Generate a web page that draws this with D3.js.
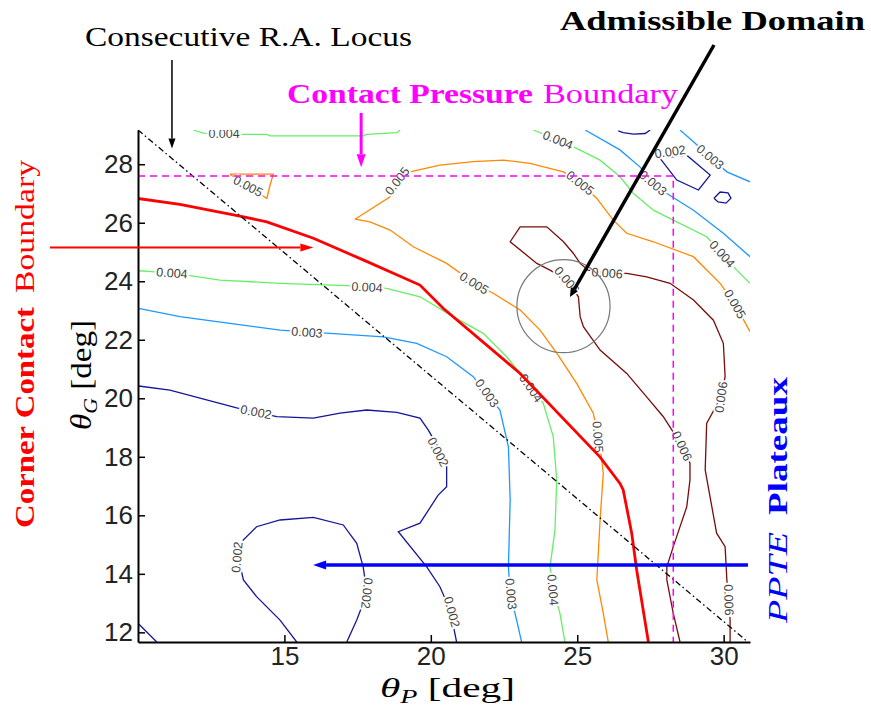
<!DOCTYPE html>
<html>
<head>
<meta charset="utf-8">
<script src="https://cdn.jsdelivr.net/npm/d3@7"></script>
<style>
  body { margin: 0; background: #fff; }
  svg { display: block; }
</style>
</head>
<body>
<svg class="chart" width="871" height="710"></svg>
<script>
// tick values
const xTicks = [15, 20, 25, 30];
const yTicks = [12, 14, 16, 18, 20, 22, 24, 26, 28];

// contour lines, one list of polylines per level ([thetaP, thetaG] in deg)
const lines002 = [
  [[10.02,20.42],[11.09,20.28],[13.37,19.67],[14.74,19.37],[15.99,19.32],[16.90,19.49],[17.81,19.60],[18.84,19.52],[19.63,19.32],[19.91,18.92],[20.31,18.23],[20.54,17.78],[20.54,16.98],[20.25,16.69],[19.63,15.73],[18.89,15.44],[19.86,14.24],[20.31,13.56],[20.66,12.76],[20.88,11.67]],
  [[15.42,11.67],[14.85,12.42],[14.05,13.22],[13.60,13.79],[13.42,14.58],[13.60,15.16],[14.05,15.61],[14.85,15.84],[15.99,15.93],[17.01,15.67],[17.47,15.04],[17.69,14.24],[17.82,13.34],[17.47,12.42],[17.13,11.67]],
  [[10.0,12.31],[10.64,11.67]],
  [[26.40,29.14],[26.57,29.08],[26.92,29.03],[27.32,29.05],[27.49,29.17]],
  [[27.83,28.20],[28.74,28.31],[29.54,27.63],[29.14,27.12],[28.40,27.46],[27.83,28.20]],
  [[29.67,26.84],[29.88,27.05],[30.15,27.02],[30.25,26.84],[30.08,26.67],[29.81,26.71],[29.67,26.84]]
];
const lines003 = [
  [[10.02,23.07],[11.43,22.79],[13.14,22.56],[14.85,22.33],[16.56,22.22],[18.38,22.10],[19.52,21.88],[20.54,21.42],[21.45,20.74],[21.85,20.21],[22.36,19.60],[22.65,18.34],[22.71,16.52],[22.65,14.24],[22.71,13.34],[22.93,12.42],[23.10,11.67]],
  [[25.27,29.17],[26.46,28.49],[27.14,27.91],[27.59,27.36],[28.06,27.00],[28.97,26.43],[29.99,25.64],[30.90,24.84]],
  [[28.51,29.17],[28.97,28.77],[29.54,28.25],[30.11,27.74],[30.90,27.40]]
];
const lines004 = [
  [[11.89,29.17],[12.23,29.06],[13.60,29.02],[14.40,29.02],[14.51,28.97],[17.69,28.97],[17.81,29.02],[18.84,29.08],[18.95,29.17]],
  [[10.02,24.36],[10.47,24.33],[11.78,24.19],[12.80,24.04],[14.85,23.93],[17.13,23.85],[18.49,23.76],[19.63,23.47],[20.66,22.85],[21.79,22.22],[22.59,21.42],[23.05,20.85],[23.42,20.35],[23.84,19.83],[24.18,18.69],[24.30,17.21],[24.24,15.50],[24.07,14.24],[24.18,13.45],[24.41,12.65],[24.58,11.67]],
  [[23.50,29.17],[24.34,28.83],[24.98,28.54],[25.78,28.14],[26.46,27.57],[26.92,27.00],[27.60,26.43],[28.28,26.09],[29.42,25.52],[29.95,24.93],[30.45,24.38],[30.90,23.93]]
];
const lines005 = [
  [[13.14,27.66],[14.62,27.66],[14.51,27.29],[14.40,26.83],[13.14,27.66]],
  [[17.41,26.12],[18.61,26.89],[18.85,27.43],[19.29,27.74],[20.31,27.97],[21.45,28.09],[22.48,28.14],[23.39,28.03],[24.53,27.74],[25.10,27.36],[25.67,26.83],[26.23,26.09],[26.69,25.64],[27.60,25.35],[28.97,24.84],[29.88,23.93],[30.39,23.22],[30.90,22.28]],
  [[17.41,26.12],[17.92,26.03],[18.61,25.75],[19.40,25.18],[20.54,24.61],[21.48,23.94],[22.13,23.59],[23.05,23.02],[23.73,22.33],[24.30,21.54],[24.98,20.51],[25.55,19.49],[25.71,18.68],[25.78,18.34],[25.89,17.44],[25.78,15.84],[25.67,13.79],[25.89,12.65],[26.06,11.67]]
];
const lines006 = [
  [[30.22,11.67],[30.22,12.42],[30.18,13.11],[30.11,13.79],[30.05,14.93],[29.76,15.39],[29.37,17.55],[29.42,19.14],[29.91,20.04],[30.05,20.74],[29.99,21.88],[29.65,22.67],[28.97,23.36],[28.17,23.93],[27.37,24.15],[26.69,24.27],[26.02,24.28],[25.37,24.38],[25.10,24.61],[24.87,24.95],[24.53,25.35],[23.96,25.86],[23.05,25.86],[22.71,25.35],[23.62,24.61],[24.07,24.38],[24.65,24.04],[25.04,23.47],[25.10,22.79],[25.21,22.45],[25.78,21.65],[26.69,20.85],[27.37,20.05],[27.94,19.37],[28.23,18.92],[28.58,18.37],[28.85,17.78],[28.85,17.21],[28.74,16.29],[28.28,14.93],[28.06,14.24],[28.06,13.79],[28.28,12.65],[28.51,11.67]]
];

// inline contour labels: [thetaP, thetaG, angle]
const labels002 = [[14.03,19.53,11],[20.25,18.16,62],[20.72,12.70,75],[13.38,14.57,-85],[17.82,13.34,96],[28.17,28.43,-8]];
const labels003 = [[15.77,22.26,4],[21.92,20.18,55],[22.74,13.31,85],[27.59,27.36,40],[29.54,28.25,40]];
const labels004 = [[12.94,29.03,0],[11.16,24.28,4],[17.82,23.80,3],[23.42,20.35,55],[24.17,13.45,85],[24.34,28.83,22],[29.95,24.93,48]];
const labels005 = [[13.76,27.25,28],[18.85,27.43,-52],[25.10,27.36,38],[30.39,23.22,60],[21.48,23.94,32],[25.71,18.68,86]];
const labels006 = [[24.65,24.04,50],[26.02,24.28,4],[29.91,20.04,-82],[28.58,18.37,65],[30.18,13.11,88]];

// boundaries
const cornerContact = [[10.0,26.83],[11.43,26.63],[13.48,26.23],[14.40,26.03],[15.99,25.47],[17.69,24.73],[19.63,23.87],[20.43,23.07],[23.05,20.85],[25.78,17.99],[26.46,17.09],[26.57,16.87],[26.86,15.39],[27.03,14.13],[27.43,11.67]];
const raLocus = [[10.0,29.17],[30.83,11.67]];
const pressureBoundary = [[10.0,27.60],[28.28,27.60],[28.28,11.67]];
const admissibleCenter = [24.53, 23.15];
const admissibleRadius = 1.59;

const svg = d3.select(".chart");

const x = d3.scaleLinear().domain([10, 30.9]).range([138, 750]);
const y = d3.scaleLinear().domain([11.67, 29.17]).range([642, 130]);

const contours = [
  { level: 0.002, color: "#15159a", lines: lines002, labels: labels002 },
  { level: 0.003, color: "#1e98ff", lines: lines003, labels: labels003 },
  { level: 0.004, color: "#66ee66", lines: lines004, labels: labels004 },
  { level: 0.005, color: "#ff8800", lines: lines005, labels: labels005 },
  { level: 0.006, color: "#7a0c0c", lines: lines006, labels: labels006 }
];

svg.append("defs").append("clipPath").attr("id", "plotArea")
  .append("rect").attr("x", 138).attr("y", 130).attr("width", 612).attr("height", 512);

const plot = svg.append("g").attr("clip-path", "url(#plotArea)");
const line = d3.line().x(d => x(d[0])).y(d => y(d[1]));

// contour lines
contours.forEach(c => {
  c.lines.forEach(pts => {
    plot.append("path")
      .attr("d", line(pts))
      .attr("fill", "none")
      .attr("stroke", c.color)
      .attr("stroke-width", 1.3);
  });
});

// contour labels with white halo to break the lines
contours.forEach(c => {
  c.labels.forEach(([lx, ly, ang]) => {
    plot.append("text")
      .attr("transform", `translate(${x(lx)},${y(ly)}) rotate(${ang})`)
      .attr("text-anchor", "middle")
      .attr("dy", "0.35em")
      .attr("font-family", "Liberation Sans, Arial, sans-serif")
      .attr("font-size", 12.5)
      .attr("fill", "#444")
      .attr("stroke", "#fff")
      .attr("stroke-width", 4)
      .attr("paint-order", "stroke")
      .text(c.level.toFixed(3));
  });
});

// corner contact boundary
plot.append("path")
  .attr("d", line(cornerContact))
  .attr("fill", "none")
  .attr("stroke", "#ff0000")
  .attr("stroke-width", 2.8);

// consecutive R.A. locus
plot.append("path")
  .attr("d", line(raLocus))
  .attr("fill", "none")
  .attr("stroke", "#000")
  .attr("stroke-width", 1.3)
  .attr("stroke-dasharray", "6,3,1.5,3");

// contact pressure boundary
plot.append("path")
  .attr("d", line(pressureBoundary))
  .attr("fill", "none")
  .attr("stroke", "#ff00ff")
  .attr("stroke-width", 1.5)
  .attr("stroke-dasharray", "7,5");

// admissible domain
plot.append("circle")
  .attr("cx", x(admissibleCenter[0]))
  .attr("cy", y(admissibleCenter[1]))
  .attr("r", x(admissibleCenter[0] + admissibleRadius) - x(admissibleCenter[0]))
  .attr("fill", "none")
  .attr("stroke", "#777")
  .attr("stroke-width", 1.2);

// axes
const yAxis = svg.append("g")
  .attr("transform", "translate(138,0)")
  .call(d3.axisLeft(y).tickValues(yTicks).tickSize(-7).tickSizeOuter(0).tickPadding(5));
const xAxis = svg.append("g")
  .attr("transform", "translate(0,642)")
  .call(d3.axisBottom(x).tickValues(xTicks).tickSize(-7).tickSizeOuter(0).tickPadding(5));

[xAxis, yAxis].forEach(ax => {
  ax.select(".domain").attr("stroke", "#000").attr("stroke-width", 2);
  ax.selectAll(".tick line").attr("stroke", "#000").attr("stroke-width", 1.5);
  ax.selectAll(".tick text")
    .attr("font-family", "Liberation Sans, Arial, sans-serif")
    .attr("font-size", 26)
    .attr("fill", "#222");
});

// axis titles
const serif = "Liberation Serif, Times New Roman, serif";

const xTitle = svg.append("text")
  .attr("x", 380).attr("y", 697)
  .attr("font-family", serif).attr("font-size", 28)
  .attr("textLength", 135).attr("lengthAdjust", "spacingAndGlyphs");
xTitle.append("tspan").attr("font-style", "italic").text("θ");
xTitle.append("tspan").attr("font-style", "italic").attr("font-size", 19).attr("dy", 6).text("P");
xTitle.append("tspan").attr("dy", -6).text(" [deg]");

const yTitle = svg.append("text")
  .attr("transform", "translate(91,430) rotate(-90)")
  .attr("font-family", serif).attr("font-size", 29)
  .attr("textLength", 110).attr("lengthAdjust", "spacingAndGlyphs");
yTitle.append("tspan").attr("font-style", "italic").text("θ");
yTitle.append("tspan").attr("font-style", "italic").attr("font-size", 19).attr("dy", 6).text("G");
yTitle.append("tspan").attr("dy", -6).text(" [deg]");

// annotations
function label(str, tx, ty, rot, len, opts) {
  return svg.append("text")
    .attr("transform", `translate(${tx},${ty}) rotate(${rot})`)
    .attr("font-family", serif)
    .attr("font-size", opts.size || 28)
    .attr("font-weight", opts.weight || "normal")
    .attr("font-style", opts.style || "normal")
    .attr("fill", opts.color || "#000")
    .attr("textLength", len)
    .attr("lengthAdjust", "spacingAndGlyphs")
    .text(str);
}

function arrow(x1, y1, x2, y2, color, w, hl, hw) {
  const a = Math.atan2(y2 - y1, x2 - x1);
  const bx = x2 - hl * Math.cos(a), by = y2 - hl * Math.sin(a);
  svg.append("line")
    .attr("x1", x1).attr("y1", y1).attr("x2", bx).attr("y2", by)
    .attr("stroke", color).attr("stroke-width", w);
  const px = -Math.sin(a) * hw / 2, py = Math.cos(a) * hw / 2;
  svg.append("polygon")
    .attr("points", `${x2},${y2} ${bx + px},${by + py} ${bx - px},${by - py}`)
    .attr("fill", color);
}

label("Consecutive R.A. Locus", 85, 46, 0, 327, {});
arrow(x(11.16), 60, x(11.16), y(28.54), "#000", 1.5, 10, 7);

label("Admissible Domain", 560, 30, 0, 305, { weight: "bold" });
arrow(714, 45, x(24.75), y(23.46), "#000", 3.5, 9, 8);

label("Contact Pressure", 287, 103, 0, 246, { weight: "bold", color: "#ff00ff" });
label("Boundary", 543, 103, 0, 135, { color: "#ff00ff" });
arrow(x(17.62), 113, x(17.62), y(27.90), "#ff00ff", 3, 13, 9);

label("Corner Contact", 34, 528, -90, 221, { weight: "bold", color: "#ff0000" });
label("Boundary", 34, 293, -90, 133, { color: "#ff0000" });
arrow(50, y(25.15), x(15.99), y(25.15), "#ff0000", 2, 13, 8);

label("PPTE", 787, 623, -90, 91, { style: "italic", color: "#0000ff" });
label("Plateaux", 787, 515, -90, 138, { weight: "bold", color: "#0000ff" });
arrow(x(30.83), y(14.30), x(15.98), y(14.30), "#0000ff", 3.5, 13, 9);
</script>
</body>
</html>
